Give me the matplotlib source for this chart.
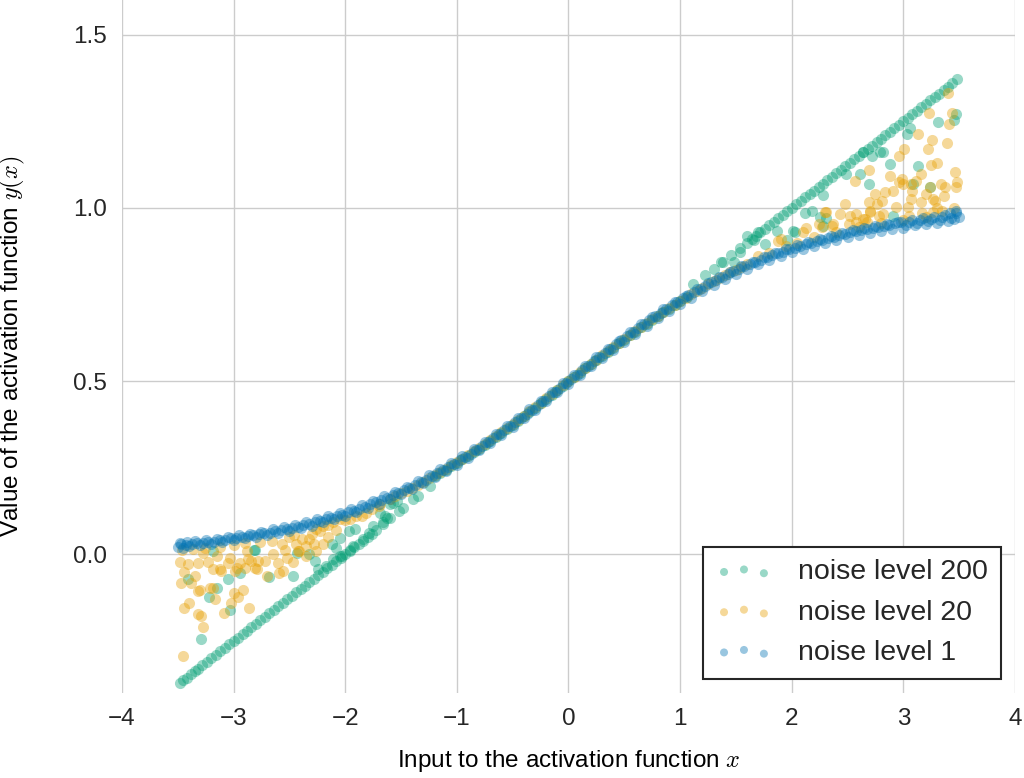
import matplotlib
matplotlib.use('Agg')
import matplotlib.pyplot as plt
from matplotlib.ticker import FormatStrFormatter

# points, (x, y)
green_points = [
    # left tail, along the straight line
    (-3.48, -0.370), (-3.45, -0.362), (-3.42, -0.356), (-3.38, -0.345), (-3.35, -0.337),
    (-3.32, -0.330), (-3.28, -0.320), (-3.24, -0.310), (-3.20, -0.300), (-3.16, -0.290),
    (-3.12, -0.280), (-3.08, -0.270), (-3.04, -0.260), (-3.00, -0.250), (-2.96, -0.240),
    (-2.92, -0.230), (-2.88, -0.220), (-2.84, -0.210), (-2.80, -0.200), (-2.76, -0.190),
    (-2.72, -0.180), (-2.68, -0.170), (-2.64, -0.160), (-2.60, -0.150), (-2.56, -0.140),
    (-2.52, -0.130), (-2.48, -0.120), (-2.44, -0.110), (-2.40, -0.100), (-2.36, -0.090),
    (-2.32, -0.080), (-2.28, -0.070), (-2.24, -0.060), (-2.20, -0.050), (-2.16, -0.040),
    (-2.12, -0.030), (-2.08, -0.020), (-2.04, -0.010), (-2.00, 0.000), (-1.96, 0.010),
    (-1.92, 0.020), (-1.88, 0.030), (-1.84, 0.040), (-1.80, 0.050), (-1.76, 0.060),
    (-1.72, 0.070), (-1.66, 0.088), (-1.60, 0.104), (-1.52, 0.126),
    # left tail, scattered
    (-3.41, -0.072), (-3.22, -0.122), (-3.15, -0.096), (-3.05, -0.072), (-3.03, -0.161),
    (-3.29, -0.243), (-2.94, -0.053), (-2.81, 0.012), (-2.68, -0.065), (-2.47, -0.063),
    (-2.43, 0.005), (-2.32, 0.000), (-2.27, -0.019), (-3.18, 0.010), (-2.82, 0.014),
    (-2.24, -0.043), (-2.17, -0.034), (-2.11, -0.014), (-2.05, -0.005), (-2.12, 0.029),
    (-1.96, 0.014), (-1.93, 0.024), (-1.79, 0.063), (-1.75, 0.082), (-1.66, 0.092),
    (-1.64, 0.110), (-1.69, 0.120), (-1.57, 0.149), (-1.48, 0.135), (-1.39, 0.159),
    (-2.05, 0.048), (-2.03, -0.005), (-1.91, 0.072), (-1.97, 0.067), (-1.63, 0.106),
    (-1.60, 0.145), (-1.54, 0.154), (-1.35, 0.168), (-1.24, 0.197), (-2.08, 0.019),
    (-1.84, 0.043),
    # middle, on the curve
    (-1.20, 0.226), (-1.10, 0.244), (-1.00, 0.263), (-0.90, 0.284), (-0.80, 0.305),
    (-0.70, 0.327), (-0.60, 0.350), (-0.50, 0.374), (-0.40, 0.398), (-0.30, 0.423),
    (-0.20, 0.448), (-0.10, 0.474), (0.00, 0.499), (0.10, 0.524), (0.20, 0.549),
    (0.30, 0.573), (0.40, 0.597), (0.50, 0.620), (0.60, 0.643), (0.70, 0.666),
    (0.80, 0.688), (0.90, 0.709), (1.00, 0.730), (1.06, 0.742),
    (-1.15, 0.236), (-1.05, 0.254), (-0.95, 0.274), (-0.85, 0.295), (-0.75, 0.316),
    (-0.65, 0.339), (-0.55, 0.362), (-0.45, 0.386), (-0.35, 0.411), (-0.25, 0.436),
    (-0.15, 0.461), (-0.05, 0.487), (0.05, 0.512), (0.15, 0.537), (0.25, 0.561),
    (0.35, 0.585), (0.45, 0.609), (0.55, 0.632), (0.65, 0.655), (0.75, 0.677),
    (0.85, 0.699), (0.95, 0.720),
    # right tail, along the straight line
    (1.12, 0.780), (1.22, 0.805), (1.30, 0.825), (1.38, 0.845), (1.46, 0.865),
    (1.54, 0.885), (1.60, 0.900), (1.64, 0.910), (1.68, 0.920), (1.72, 0.930),
    (1.76, 0.940), (1.80, 0.950), (1.84, 0.960), (1.88, 0.970), (1.92, 0.980),
    (1.96, 0.990), (2.00, 1.000), (2.04, 1.010), (2.08, 1.020), (2.12, 1.030),
    (2.16, 1.040), (2.20, 1.050), (2.24, 1.060), (2.28, 1.070), (2.32, 1.080),
    (2.36, 1.090), (2.40, 1.100), (2.44, 1.110), (2.48, 1.120), (2.52, 1.130),
    (2.56, 1.140), (2.60, 1.150), (2.64, 1.160), (2.68, 1.170), (2.72, 1.180),
    (2.76, 1.190), (2.80, 1.200), (2.84, 1.210), (2.88, 1.220), (2.92, 1.230),
    (2.96, 1.240), (3.00, 1.250), (3.04, 1.260), (3.08, 1.270), (3.12, 1.280),
    (3.16, 1.290), (3.20, 1.300), (3.24, 1.310), (3.28, 1.320), (3.32, 1.330),
    (3.36, 1.340), (3.40, 1.350), (3.44, 1.360), (3.48, 1.372),
    # right tail, scattered
    (3.31, 1.249), (3.47, 1.272), (3.45, 1.255), (3.03, 1.214), (3.06, 1.231),
    (3.13, 1.121), (2.88, 1.127), (3.24, 1.060), (3.09, 1.069), (2.69, 1.069),
    (2.61, 1.098), (2.49, 1.098), (2.72, 1.151), (2.82, 1.161), (2.64, 1.161),
    (2.28, 1.036), (2.12, 0.986), (2.18, 0.992), (2.25, 0.973), (2.31, 0.970),
    (1.87, 0.934), (2.01, 0.934), (1.76, 0.896), (1.96, 0.906), (2.91, 0.978),
    (1.60, 0.920), (1.54, 0.872), (1.66, 0.906), (1.70, 0.930), (2.03, 0.930),
    (1.48, 0.843), (1.37, 0.843), (2.28, 0.949), (2.79, 1.160),
]

orange_points = [
    # left tail, scattered below the curve
    (-3.48, -0.022), (-3.41, -0.029), (-3.47, -0.082), (-3.44, -0.050), (-3.38, -0.082),
    (-3.35, -0.063), (-3.32, -0.024), (-3.27, 0.005), (-3.23, -0.022), (-3.18, -0.043),
    (-3.15, -0.005), (-3.11, -0.048), (-3.05, -0.024), (-2.99, -0.048), (-2.94, -0.024),
    (-2.90, -0.038), (-2.87, -0.014), (-2.81, -0.038), (-2.78, -0.019), (-2.72, -0.019),
    (-2.70, -0.063), (-2.60, -0.024), (-2.56, -0.048), (-2.57, 0.029), (-2.47, -0.022),
    (-2.42, 0.010), (-2.35, 0.024), (-2.32, 0.043), (-2.26, 0.010), (-2.20, 0.029),
    (-3.32, -0.106), (-3.30, -0.104), (-3.40, -0.140), (-3.44, -0.154), (-3.32, -0.173),
    (-3.29, -0.178), (-3.27, -0.209), (-3.21, -0.096), (-3.18, -0.096), (-3.17, -0.130),
    (-3.09, -0.169), (-3.02, -0.140), (-3.00, -0.111), (-2.96, -0.122), (-2.92, -0.103),
    (-2.86, -0.154), (-3.45, -0.294), (-2.59, -0.053), (-3.12, -0.043), (-3.03, -0.010),
    (-2.97, -0.038), (-2.88, 0.010), (-2.84, -0.019), (-2.79, -0.043), (-2.54, 0.014),
    (-2.41, 0.010), (-2.39, 0.043), (-2.30, 0.058), (-2.23, 0.067), (-2.20, 0.082),
    (-2.11, 0.092), (-2.05, 0.101), (-1.96, 0.101), (-1.90, 0.111), (-1.85, 0.111),
    (-1.81, 0.120), (-1.76, 0.130), (-1.70, 0.140), (-1.69, 0.145),
    (-3.46, 0.012), (-3.36, 0.015), (-3.26, 0.018), (-3.12, 0.022), (-3.00, 0.028),
    (-2.90, 0.032), (-2.76, 0.036), (-2.66, 0.040), (-2.50, 0.050), (-2.46, 0.056),
    (-2.26, 0.072), (-2.15, 0.085), (-2.00, 0.100), (-2.65, 0.000), (-2.52, -0.010),
    (-2.35, -0.005), (-2.44, 0.030), (-2.28, 0.030), (-2.15, 0.050), (-2.08, 0.070),
    # middle, on the curve
    (-1.60, 0.160), (-1.50, 0.176), (-1.40, 0.192), (-1.30, 0.210), (-1.20, 0.228),
    (-1.10, 0.247), (-1.00, 0.266), (-0.90, 0.286), (-0.80, 0.307), (-0.70, 0.329),
    (-0.60, 0.352), (-0.50, 0.376), (-0.40, 0.400), (-0.30, 0.425), (-0.20, 0.450),
    (-0.10, 0.475), (0.00, 0.500), (0.10, 0.525), (0.20, 0.550), (0.30, 0.574),
    (0.40, 0.598), (0.50, 0.621), (0.60, 0.644), (0.70, 0.667), (0.80, 0.689),
    (0.90, 0.710), (1.00, 0.731), (1.10, 0.751), (1.20, 0.770), (1.30, 0.788),
    (1.40, 0.806), (1.50, 0.822), (1.60, 0.838),
    (-1.55, 0.168), (-1.45, 0.184), (-1.35, 0.201), (-1.25, 0.219), (-1.15, 0.238),
    (-1.05, 0.257), (-0.95, 0.276), (-0.85, 0.297), (-0.75, 0.318), (-0.65, 0.341),
    (-0.55, 0.364), (-0.45, 0.388), (-0.35, 0.413), (-0.25, 0.438), (-0.15, 0.463),
    (-0.05, 0.488), (0.05, 0.513), (0.15, 0.538), (0.25, 0.562), (0.35, 0.586),
    (0.45, 0.610), (0.55, 0.633), (0.65, 0.656), (0.75, 0.678), (0.85, 0.700),
    (0.95, 0.721), (1.05, 0.741), (1.15, 0.761), (1.25, 0.779), (1.35, 0.797),
    (1.45, 0.814), (1.55, 0.830),
    # right tail, scattered above the curve
    (3.40, 1.331), (3.23, 1.275), (3.44, 1.275), (3.41, 1.243), (3.13, 1.214),
    (3.26, 1.197), (3.22, 1.169), (3.39, 1.187), (3.01, 1.169), (2.96, 1.151),
    (3.30, 1.129), (3.25, 1.125), (3.46, 1.103), (3.48, 1.076), (3.47, 1.060),
    (3.37, 1.060), (3.34, 1.068), (3.24, 1.061), (3.16, 1.098), (3.11, 1.079),
    (3.07, 1.069), (2.99, 1.084), (2.96, 1.074), (2.88, 1.092), (2.91, 1.050),
    (2.84, 1.045), (3.08, 1.050), (3.20, 1.040), (3.07, 1.026), (3.36, 1.034),
    (3.16, 1.018), (3.28, 1.021), (2.93, 1.002), (3.04, 1.002), (3.17, 0.986),
    (3.27, 0.988), (2.69, 1.108), (2.57, 1.079), (3.00, 1.069), (2.75, 1.040),
    (2.76, 1.012), (2.69, 1.016), (2.48, 1.010), (2.31, 0.988), (2.43, 0.983),
    (2.52, 0.978), (2.58, 0.983), (2.64, 0.968), (2.70, 0.988), (2.82, 0.983),
    (3.05, 0.978), (2.24, 0.954), (2.36, 0.949), (2.27, 0.944), (2.13, 0.941),
    (2.10, 0.930), (1.90, 0.910), (1.88, 0.905), (2.51, 0.954), (2.58, 0.959),
    (2.67, 0.959), (2.78, 0.978), (3.27, 1.026), (2.81, 1.021), (2.70, 0.992),
    (2.66, 0.968), (2.37, 0.954), (2.30, 0.988),
    (1.70, 0.860), (1.80, 0.870), (1.95, 0.890), (2.05, 0.900), (2.20, 0.915),
    (2.40, 0.930), (2.60, 0.945), (2.80, 0.955), (3.00, 0.965), (3.20, 0.975),
    (3.35, 0.990), (3.45, 1.000), (3.30, 1.000),
]

blue_points = [
    (-3.50, 0.022), (-3.48, 0.034), (-3.45, 0.018), (-3.42, 0.036), (-3.40, 0.024),
    (-3.35, 0.038), (-3.30, 0.028), (-3.25, 0.041), (-3.20, 0.031), (-3.15, 0.045),
    (-3.10, 0.036), (-3.05, 0.049), (-3.00, 0.042), (-2.95, 0.055), (-2.90, 0.046),
    (-2.85, 0.060), (-2.80, 0.051), (-2.75, 0.066), (-2.70, 0.056), (-2.65, 0.072),
    (-2.60, 0.061), (-2.55, 0.078), (-2.50, 0.067), (-2.45, 0.086), (-2.40, 0.075),
    (-2.35, 0.093), (-2.30, 0.083), (-2.25, 0.101), (-2.20, 0.092), (-2.15, 0.110),
    (-2.10, 0.101), (-2.05, 0.120), (-2.00, 0.111), (-1.95, 0.131), (-1.90, 0.122),
    (-1.85, 0.142), (-1.80, 0.134), (-1.75, 0.155), (-1.70, 0.146), (-1.65, 0.168),
    (-1.60, 0.159), (-1.55, 0.181), (-1.50, 0.174), (-1.45, 0.195), (-1.40, 0.189),
    (-1.35, 0.211), (-1.30, 0.205), (-1.25, 0.228), (-1.20, 0.223), (-1.15, 0.245),
    (-1.10, 0.241), (-1.05, 0.263), (-1.00, 0.259), (-0.95, 0.283), (-0.90, 0.279),
    (-0.85, 0.303), (-0.80, 0.300), (-0.75, 0.325), (-0.70, 0.322), (-0.65, 0.348),
    (-0.60, 0.345), (-0.55, 0.371), (-0.50, 0.369), (-0.45, 0.395), (-0.40, 0.393),
    (-0.35, 0.420), (-0.30, 0.417), (-0.25, 0.444), (-0.20, 0.443), (-0.15, 0.469),
    (-0.10, 0.468), (-0.05, 0.494), (0.00, 0.493), (0.05, 0.519), (0.10, 0.518),
    (0.15, 0.544), (0.20, 0.543), (0.25, 0.569), (0.30, 0.567), (0.35, 0.593),
    (0.40, 0.591), (0.45, 0.617), (0.50, 0.614), (0.55, 0.641), (0.60, 0.637),
    (0.65, 0.664), (0.70, 0.659), (0.75, 0.686), (0.80, 0.681), (0.85, 0.707),
    (0.90, 0.702), (0.95, 0.728), (1.00, 0.723), (1.05, 0.747), (1.10, 0.741),
    (1.15, 0.766), (1.20, 0.760), (1.25, 0.783), (1.30, 0.777), (1.35, 0.800),
    (1.40, 0.794), (1.45, 0.816), (1.50, 0.809), (1.55, 0.831), (1.60, 0.824),
    (1.65, 0.845), (1.70, 0.837), (1.75, 0.858), (1.80, 0.850), (1.85, 0.870),
    (1.90, 0.861), (1.95, 0.881), (2.00, 0.872), (2.05, 0.892), (2.10, 0.882),
    (2.15, 0.902), (2.20, 0.891), (2.25, 0.911), (2.30, 0.900), (2.35, 0.920),
    (2.40, 0.908), (2.45, 0.928), (2.50, 0.915), (2.55, 0.935), (2.60, 0.922),
    (2.65, 0.942), (2.70, 0.928), (2.75, 0.948), (2.80, 0.933), (2.85, 0.954),
    (2.90, 0.938), (2.95, 0.959), (3.00, 0.943), (3.05, 0.960), (3.10, 0.950),
    (3.15, 0.964), (3.20, 0.953), (3.25, 0.968), (3.30, 0.957), (3.35, 0.973),
    (3.40, 0.962), (3.42, 0.984), (3.45, 0.968), (3.47, 0.990), (3.50, 0.975),
    # second pass, between the first points
    (-3.475, 0.030), (-3.425, 0.027), (-3.375, 0.031), (-3.325, 0.034), (-3.275, 0.033),
    (-3.225, 0.037), (-3.175, 0.037), (-3.125, 0.041), (-3.075, 0.042), (-3.025, 0.046),
    (-2.975, 0.047), (-2.925, 0.051), (-2.875, 0.052), (-2.825, 0.056), (-2.775, 0.058),
    (-2.725, 0.061), (-2.675, 0.063), (-2.625, 0.067), (-2.575, 0.069), (-2.525, 0.073),
    (-2.475, 0.076), (-2.425, 0.080), (-2.375, 0.084), (-2.325, 0.088), (-2.275, 0.092),
    (-2.225, 0.096), (-2.175, 0.101), (-2.125, 0.105), (-2.075, 0.110), (-2.025, 0.115),
    (-1.975, 0.121), (-1.925, 0.126), (-1.875, 0.132), (-1.825, 0.138), (-1.775, 0.144),
    (-1.725, 0.150), (-1.675, 0.157), (-1.625, 0.164), (-1.575, 0.170), (-1.525, 0.178),
    (-1.475, 0.185), (-1.425, 0.192), (-1.375, 0.200), (-1.325, 0.208), (-1.275, 0.216),
    (-1.225, 0.225), (-1.175, 0.234), (-1.125, 0.243), (-1.075, 0.252), (-1.025, 0.261),
    (-0.975, 0.271), (-0.925, 0.281), (-0.875, 0.291), (-0.825, 0.301), (-0.775, 0.312),
    (-0.725, 0.323), (-0.675, 0.335), (-0.625, 0.346), (-0.575, 0.358), (-0.525, 0.370),
    (-0.475, 0.382), (-0.425, 0.394), (-0.375, 0.406), (-0.325, 0.418), (-0.275, 0.431),
    (-0.225, 0.443), (-0.175, 0.456), (-0.125, 0.468), (-0.075, 0.481), (-0.025, 0.494),
    (0.025, 0.506), (0.075, 0.519), (0.125, 0.531), (0.175, 0.544), (0.225, 0.557),
    (0.275, 0.569), (0.325, 0.581), (0.375, 0.594), (0.425, 0.606), (0.475, 0.618),
    (0.525, 0.630), (0.575, 0.641), (0.625, 0.653), (0.675, 0.664), (0.725, 0.676),
    (0.775, 0.687), (0.825, 0.698), (0.875, 0.709), (0.925, 0.719), (0.975, 0.729),
    (1.025, 0.739), (1.075, 0.749), (1.125, 0.758), (1.175, 0.767), (1.225, 0.776),
    (1.275, 0.785), (1.325, 0.793), (1.375, 0.801), (1.425, 0.809), (1.475, 0.817),
    (1.525, 0.824), (1.575, 0.831), (1.625, 0.838), (1.675, 0.845), (1.725, 0.851),
    (1.775, 0.857), (1.825, 0.863), (1.875, 0.869), (1.925, 0.874), (1.975, 0.880),
    (2.025, 0.885), (2.075, 0.890), (2.125, 0.895), (2.175, 0.899), (2.225, 0.904),
    (2.275, 0.908), (2.325, 0.913), (2.375, 0.917), (2.425, 0.921), (2.475, 0.925),
    (2.525, 0.929), (2.575, 0.932), (2.625, 0.936), (2.675, 0.939), (2.725, 0.942),
    (2.775, 0.946), (2.825, 0.949), (2.875, 0.952), (2.925, 0.955), (2.975, 0.958),
    (3.025, 0.952), (3.075, 0.965), (3.125, 0.957), (3.175, 0.970), (3.225, 0.961),
    (3.275, 0.975), (3.325, 0.966), (3.375, 0.980), (3.425, 0.972), (3.475, 0.985),
]

series = [
    ('noise level 200', green_points, '#009E73'),
    ('noise level 20', orange_points, '#E69F00'),
    ('noise level 1', blue_points, '#0072B2'),
]

plt.rcParams['font.family'] = ['Liberation Sans', 'DejaVu Sans']
plt.rcParams['mathtext.fontset'] = 'cm'
plt.rcParams['text.color'] = '#262626'

fig = plt.figure(figsize=(10.24, 7.78), dpi=100)
ax = fig.add_axes([0.1191, 0.1093, 0.8721, 0.8907])

for label, pts, color in series:
    xs = [p[0] for p in pts]
    ys = [p[1] for p in pts]
    ax.scatter(xs, ys, s=64, color=color, alpha=0.4, linewidths=0, label=label)

ax.set_xlim(-4, 4)
ax.set_ylim(-0.4, 1.6)
ax.set_xticks(range(-4, 5))
ax.set_yticks([0, 0.5, 1.0, 1.5])
ax.yaxis.set_major_formatter(FormatStrFormatter('%.1f'))
ax.grid(True, color='#cccccc', linewidth=1.0)
ax.set_axisbelow(True)
for sp in ax.spines.values():
    sp.set_visible(False)
ax.tick_params(length=0, pad=11, labelsize=17.5, labelcolor='#262626')

ax.set_xlabel('Input to the activation function $x$', fontsize=17.5)
ax.set_ylabel('Value of the activation function $y(x)$', fontsize=17.5)
ax.xaxis.set_label_coords(0.5, -0.079)
ax.yaxis.set_label_coords(-0.106, 0.5)

leg = ax.legend(loc='lower right', fontsize=20.5, scatterpoints=3, markerscale=0.72,
                fancybox=False, frameon=True, handletextpad=0.9, borderpad=0.45)
leg.get_frame().set_edgecolor('#262626')
leg.get_frame().set_linewidth(1.5)
leg.get_frame().set_facecolor('white')
leg.get_frame().set_alpha(1)

fig.savefig('out.png', dpi=100)
